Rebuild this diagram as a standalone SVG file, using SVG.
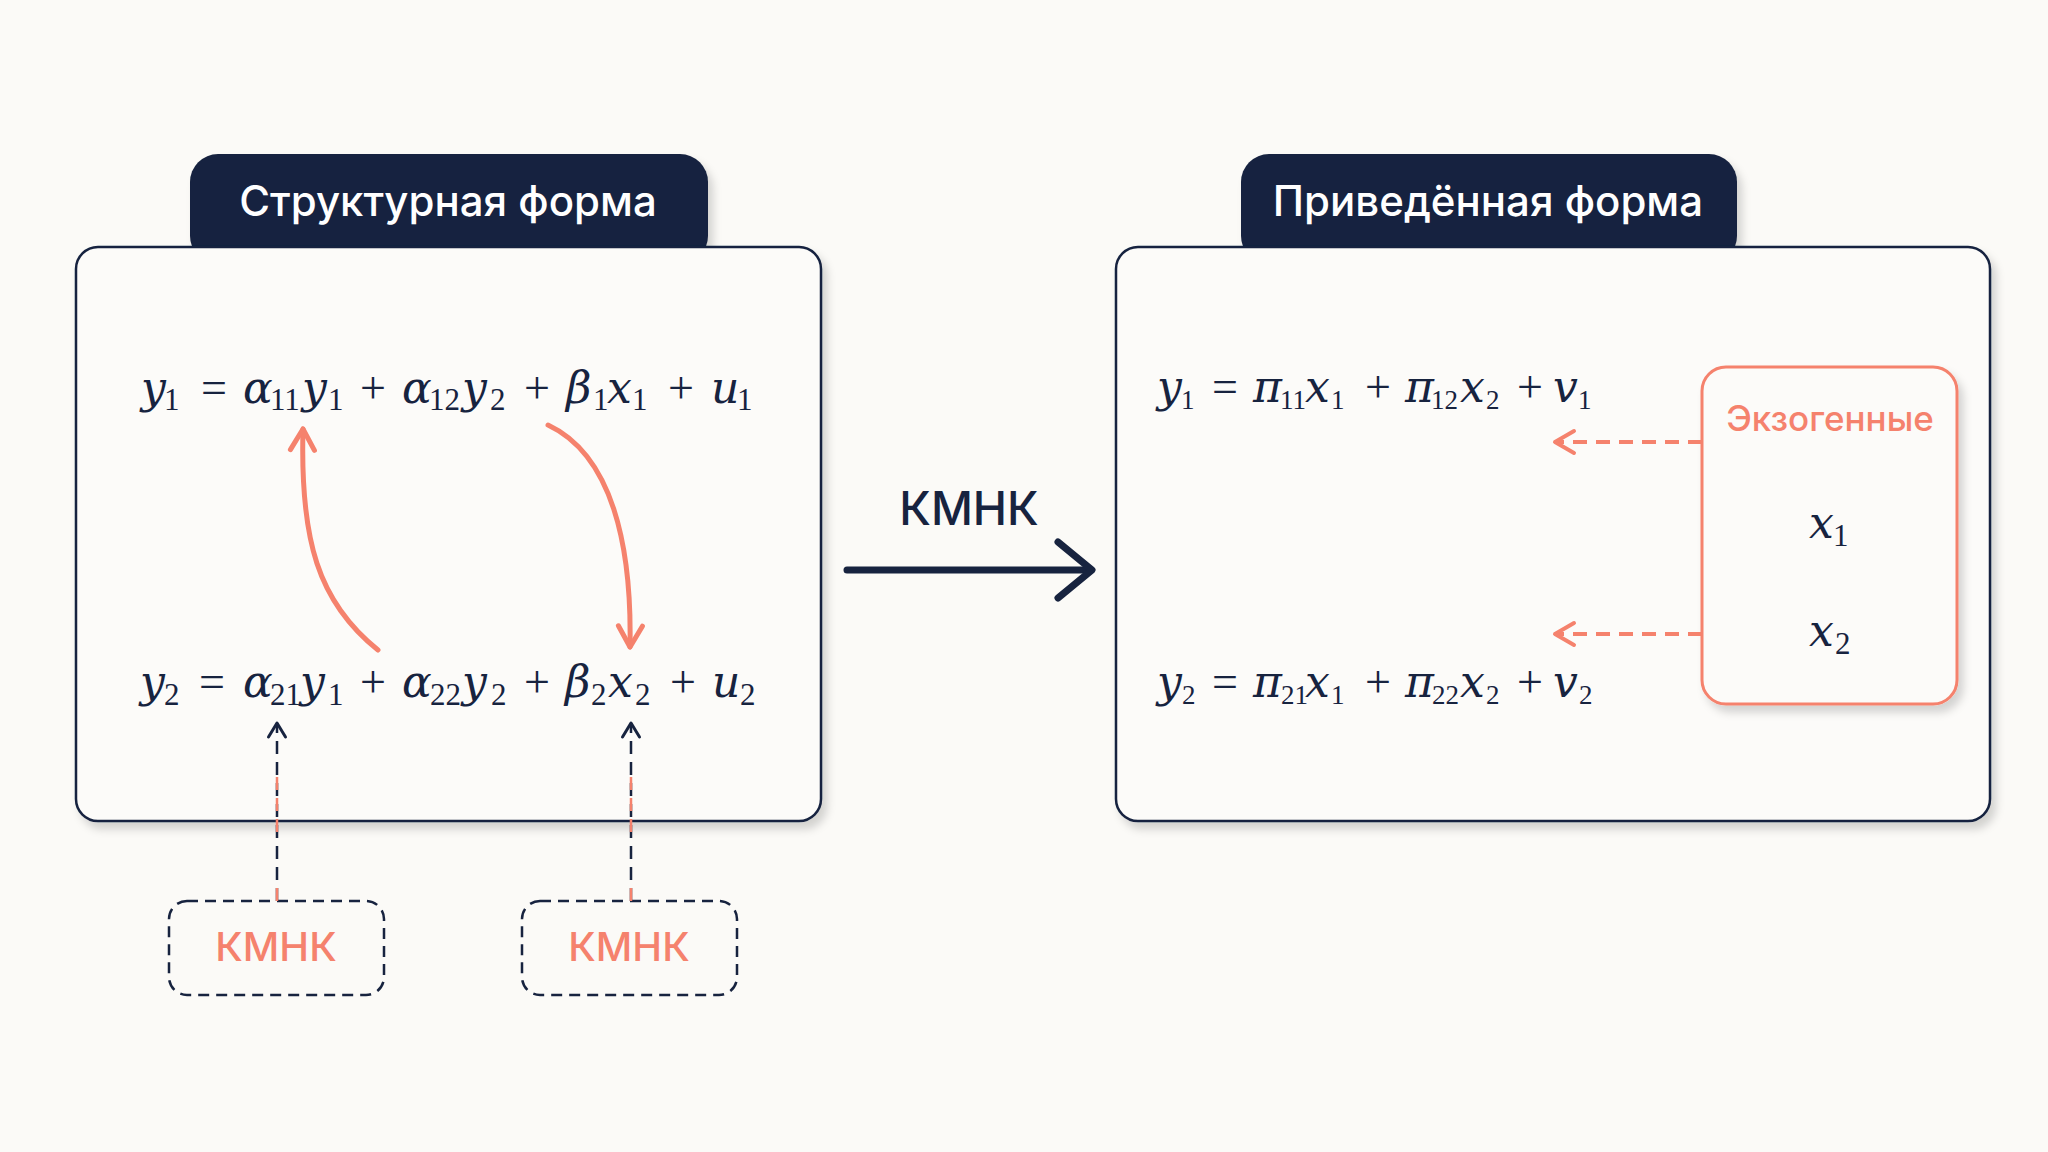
<svg xmlns="http://www.w3.org/2000/svg" width="2048" height="1152" viewBox="0 0 2048 1152">
<defs>
<filter id="sh" x="-10%" y="-10%" width="125%" height="130%">
<feDropShadow dx="5" dy="7" stdDeviation="4" flood-color="#000" flood-opacity="0.16"/>
</filter>
<marker id="hs" viewBox="-26 -16 30 32" refX="0" refY="0" markerWidth="30" markerHeight="32" markerUnits="userSpaceOnUse" orient="auto">
<path d="M-21,-12 L0,0 L-21,12" fill="none" stroke="#f5826d" stroke-width="5" stroke-linecap="round" stroke-linejoin="round"/>
</marker>
<marker id="he" viewBox="-24 -14 28 28" refX="0" refY="0" markerWidth="28" markerHeight="28" markerUnits="userSpaceOnUse" orient="auto">
<path d="M-19,-11 L0,0 L-19,11" fill="none" stroke="#f5826d" stroke-width="4" stroke-linecap="round" stroke-linejoin="round"/>
</marker>
<marker id="hn" viewBox="-20 -12 24 24" refX="0" refY="0" markerWidth="24" markerHeight="24" markerUnits="userSpaceOnUse" orient="auto">
<path d="M-14,-8.5 L0,0 L-14,8.5" fill="none" stroke="#17233f" stroke-width="3" stroke-linecap="round" stroke-linejoin="round"/>
</marker>
</defs>
<style>
.bg{fill:#fbfaf7}
.panel{fill:#fcfbf9;stroke:#17233f;stroke-width:2.5}
.tab{fill:#17233f}
.tabtxt{font-family:Inter,"Noto Sans",sans-serif;font-weight:500;font-size:42px;fill:#ffffff;text-anchor:middle}
.m{font-family:"Liberation Serif",serif;fill:#17233f;font-size:46px}
.i{font-family:"DejaVu Serif",serif;font-style:italic;font-size:44px}
.op{text-anchor:middle}
.sl{font-size:31px}
.sr{font-size:27px}
.exo{fill:#fcfbf9;stroke:#f5826d;stroke-width:3}
.exotxt{font-family:Inter,"Noto Sans",sans-serif;font-weight:500;font-size:35px;fill:#f5826d;text-anchor:middle}
.kbox{fill:none;stroke:#17233f;stroke-width:2.5;stroke-dasharray:11 7}
.ktxt{font-family:Inter,"Noto Sans",sans-serif;font-weight:500;font-size:40px;fill:#f5826d;text-anchor:middle}
.big{font-family:Inter,"Noto Sans",sans-serif;font-weight:500;font-size:46px;fill:#17233f;text-anchor:middle}
.curve{fill:none;stroke:#f5826d;stroke-width:5;stroke-linecap:round}
.edash{fill:none;stroke:#f5826d;stroke-width:4;stroke-dasharray:14 9}
.vdash{fill:none;stroke:#17233f;stroke-width:2.5;stroke-dasharray:13 8}
.vdashs{fill:none;stroke:#f5826d;stroke-width:2.5;stroke-dasharray:13 8}
.main{fill:none;stroke:#17233f;stroke-width:7;stroke-linecap:round;stroke-linejoin:round}
</style>
<rect class="bg" x="0" y="0" width="2048" height="1152"/>

<g id="structural">
<rect class="tab" x="190" y="154" width="518" height="110" rx="28" filter="url(#sh)"/>
<text class="tabtxt" x="448" y="216">Структурная форма</text>
<rect class="panel" x="76" y="247" width="745" height="574" rx="22" filter="url(#sh)"/>
<text class="m"><tspan class="i" x="141" y="403">y</tspan><tspan class="sl" x="164" y="410">1</tspan><tspan class="op" x="214" y="403">=</tspan><tspan class="i" x="243" y="403">α</tspan><tspan class="sl" x="270" y="410">11</tspan><tspan class="i" x="302" y="403">y</tspan><tspan class="sl" x="328" y="410">1</tspan><tspan class="op" x="373" y="403">+</tspan><tspan class="i" x="402" y="403">α</tspan><tspan class="sl" x="429" y="410">12</tspan><tspan class="i" x="462" y="403">y</tspan><tspan class="sl" x="490" y="410">2</tspan><tspan class="op" x="537" y="403">+</tspan><tspan class="i" x="566" y="403">β</tspan><tspan class="sl" x="593" y="410">1</tspan><tspan class="i" x="607" y="403">x</tspan><tspan class="sl" x="632" y="410">1</tspan><tspan class="op" x="681" y="403">+</tspan><tspan class="i" x="711" y="403">u</tspan><tspan class="sl" x="737" y="410">1</tspan></text>
<text class="m"><tspan class="i" x="140" y="697">y</tspan><tspan class="sl" x="164" y="705">2</tspan><tspan class="op" x="212" y="697">=</tspan><tspan class="i" x="243" y="697">α</tspan><tspan class="sl" x="270" y="705">21</tspan><tspan class="i" x="300" y="697">y</tspan><tspan class="sl" x="328" y="705">1</tspan><tspan class="op" x="373" y="697">+</tspan><tspan class="i" x="402" y="697">α</tspan><tspan class="sl" x="430" y="705">22</tspan><tspan class="i" x="462" y="697">y</tspan><tspan class="sl" x="491" y="705">2</tspan><tspan class="op" x="537" y="697">+</tspan><tspan class="i" x="565" y="697">β</tspan><tspan class="sl" x="591" y="705">2</tspan><tspan class="i" x="608" y="697">x</tspan><tspan class="sl" x="635" y="705">2</tspan><tspan class="op" x="683" y="697">+</tspan><tspan class="i" x="712" y="697">u</tspan><tspan class="sl" x="740" y="705">2</tspan></text>
</g>

<g id="reduced">
<rect class="tab" x="1241" y="154" width="496" height="110" rx="28" filter="url(#sh)"/>
<text class="tabtxt" x="1488" y="216">Приведённая форма</text>
<rect class="panel" x="1116" y="247" width="874" height="574" rx="22" filter="url(#sh)"/>
<text class="m"><tspan class="i" x="1157" y="402">y</tspan><tspan class="sr" x="1181" y="409">1</tspan><tspan class="op" x="1225" y="402">=</tspan><tspan class="i" x="1253" y="402">π</tspan><tspan class="sr" x="1280" y="409">11</tspan><tspan class="i" x="1305" y="402">x</tspan><tspan class="sr" x="1331" y="409">1</tspan><tspan class="op" x="1378" y="402">+</tspan><tspan class="i" x="1405" y="402">π</tspan><tspan class="sr" x="1431" y="409">12</tspan><tspan class="i" x="1460" y="402">x</tspan><tspan class="sr" x="1486" y="409">2</tspan><tspan class="op" x="1530" y="402">+</tspan><tspan class="i" x="1553" y="402">v</tspan><tspan class="sr" x="1578" y="409">1</tspan></text>
<text class="m"><tspan class="i" x="1157" y="697">y</tspan><tspan class="sr" x="1182" y="704">2</tspan><tspan class="op" x="1225" y="697">=</tspan><tspan class="i" x="1253" y="697">π</tspan><tspan class="sr" x="1281" y="704">21</tspan><tspan class="i" x="1305" y="697">x</tspan><tspan class="sr" x="1331" y="704">1</tspan><tspan class="op" x="1378" y="697">+</tspan><tspan class="i" x="1405" y="697">π</tspan><tspan class="sr" x="1432" y="704">22</tspan><tspan class="i" x="1460" y="697">x</tspan><tspan class="sr" x="1486" y="704">2</tspan><tspan class="op" x="1530" y="697">+</tspan><tspan class="i" x="1553" y="697">v</tspan><tspan class="sr" x="1579" y="704">2</tspan></text>
</g>

<g id="exogenous">
<rect class="exo" x="1702" y="367" width="255" height="337" rx="24" filter="url(#sh)"/>
<text class="exotxt" x="1830" y="431">Экзогенные</text>
<text class="m"><tspan class="i" x="1809" y="538">x</tspan><tspan class="sl" x="1833" y="546">1</tspan></text>
<text class="m"><tspan class="i" x="1809" y="646">x</tspan><tspan class="sl" x="1835" y="654">2</tspan></text>
</g>

<g id="kmnk1">
<rect class="kbox" x="169" y="901" width="215" height="94" rx="18"/>
<text class="ktxt" x="276" y="961">КМНК</text>
</g>
<g id="kmnk2">
<rect class="kbox" x="522" y="901" width="215" height="94" rx="18"/>
<text class="ktxt" x="629" y="961">КМНК</text>
</g>

<g id="kmnk-main">
<text class="big" x="969" y="525">КМНК</text>
</g>

<g id="connectors">
<path class="curve" d="M378,650 C318,602 300,540 303,429" marker-end="url(#hs)"/>
<path class="curve" d="M548,425 C612,455 632,545 630,647" marker-end="url(#hs)"/>
<path class="main" d="M847,570 L1089,570"/>
<path class="main" d="M1058,542 L1092,570 L1058,598"/>
<path class="edash" d="M1702,442 L1555,442" marker-end="url(#he)"/>
<path class="edash" d="M1702,634 L1555,634" marker-end="url(#he)"/>
<path class="vdash" d="M277,901 L277,723" marker-end="url(#hn)"/>
<path class="vdashs" d="M277,832 L277,776"/>
<path class="vdashs" d="M277,901 L277,880"/>
<path class="vdash" d="M631,901 L631,723" marker-end="url(#hn)"/>
<path class="vdashs" d="M631,832 L631,776"/>
<path class="vdashs" d="M631,901 L631,880"/>
</g>
</svg>
